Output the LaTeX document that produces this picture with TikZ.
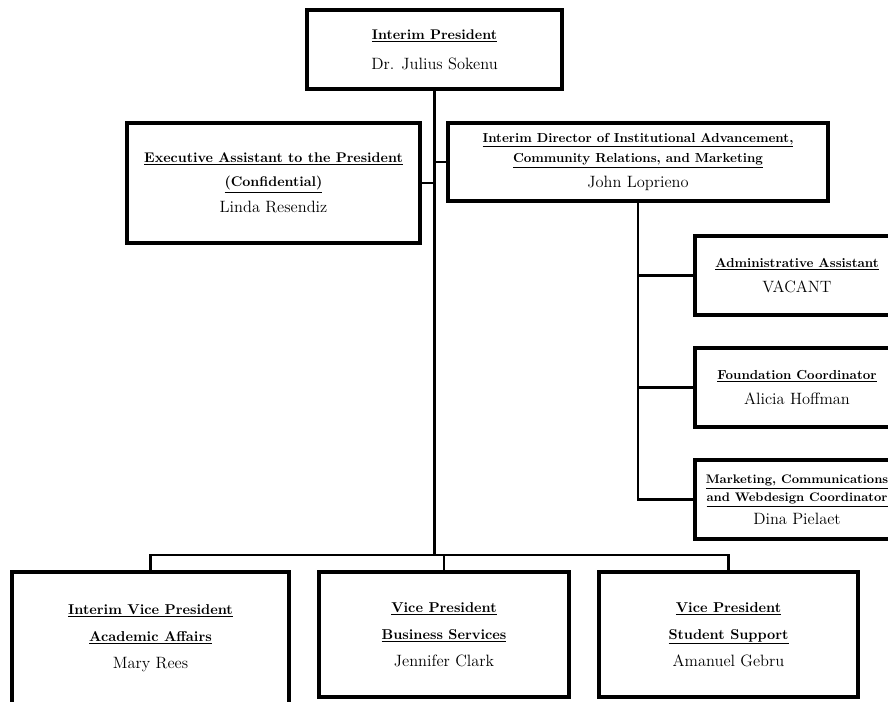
\documentclass[tikz,border=0pt]{standalone}
\usepackage{tikz}
\usetikzlibrary{
    positioning,
    calc
}
\newcommand{\postitle}[2][10.5]{{\fontsize{#1}{12}\selectfont\underline{\textbf{#2}}}}
\tikzset{
  basic/.style = {
      draw,
      rectangle,
      line width=2.8pt,
      fill=white,
      align=center,
      inner sep=2pt,
      font=\fontsize{12.3}{14}\selectfont
  },
  headbox/.style = {
      basic,
      minimum width=191pt,
      minimum height=59pt
  },
  staffbox/.style = {
      basic,
      minimum width=153pt,
      minimum height=59pt
  },
  vpbox/.style = {
      basic,
      minimum width=188pt,
      minimum height=94pt
  },
  edge/.style = {
      line width=2.2pt
  }
}

\begin{document}
\begin{tikzpicture}[x=0.75pt, y=-0.75pt, node distance=84pt]
    \useasboundingbox (0,0) rectangle (888,701);
    \clip (0,0) rectangle (888,701);
    \node[headbox] (pres) at (434.5,49.5)
        {\postitle{Interim President}\\[8.5pt] Dr. Julius Sokenu};
    \node[basic, minimum width=220pt, minimum height=90pt] (exec) at (273.5,183)
        {\postitle{Executive Assistant to the President}\\[4pt]
         \postitle{(Confidential)}\\[5.5pt] Linda Resendiz};
    \node[basic, minimum width=285pt, minimum height=58.5pt] (dir) at (638,162)
        {\postitle[9.8]{Interim Director of Institutional Advancement,}\\[1pt]
         \postitle[9.8]{Community Relations, and Marketing}\\[5pt] John Loprieno};
    \node[staffbox] (admin) at (797,275.5)
        {\postitle[9.8]{Administrative Assistant}\\[5pt] VACANT};
    \node[staffbox, below of=admin] (found)
        {\postitle[9.8]{Foundation Coordinator}\\[5pt] Alicia Hoffman};
    \node[staffbox, below of=found] (mkt)
        {\postitle[9.3]{Marketing, Communications}\\[-0.5pt]
         \postitle[9.3]{and Webdesign Coordinator}\\[3pt] Dina Pielaet};
    \node[vpbox, minimum width=208pt, minimum height=99pt] (acad) at (150.5,638)
        {\postitle[10.7]{Interim Vice President}\\[6.3pt]
         \postitle[10.7]{Academic Affairs}\\[6.6pt] Mary Rees};
    \node[vpbox] (bus) at (444,634.5)
        {\postitle[10.7]{Vice President}\\[6.3pt]
         \postitle[10.7]{Business Services}\\[6.6pt] Jennifer Clark};
    \node[vpbox, minimum width=194pt] (stud) at (728.5,634.5)
        {\postitle[10.7]{Vice President}\\[6.3pt]
         \postitle[10.7]{Student Support}\\[6.6pt] Amanuel Gebru};
    \coordinate (hub) at (434.5,555);
    % Edges
    \draw[edge] (pres.south) -- (hub);
    \draw[edge] (exec.east) -- (exec.east -| pres.south);
    \draw[edge] (dir.west) -- (dir.west -| pres.south);
    \draw[edge] (dir.south) |- (mkt.west);
    \draw[edge] (admin.west) -- (admin.west -| dir.south);
    \draw[edge] (found.west) -- (found.west -| dir.south);
    \draw[edge] (acad.north) |- (hub) -| (stud.north);
    \draw[edge] (bus.north) -- (bus.north |- hub);
\end{tikzpicture}
\end{document}
